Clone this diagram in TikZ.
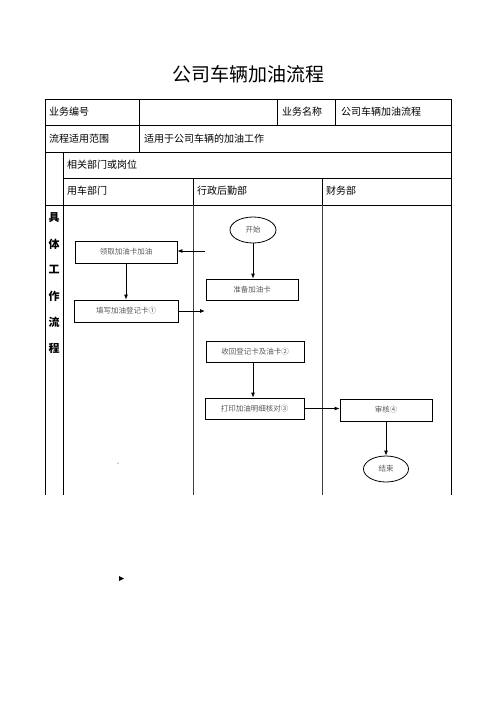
\documentclass[tikz,border=0pt]{standalone}
\usepackage{fontspec}
\setmainfont{Noto Sans CJK SC}
\usetikzlibrary{arrows.meta,shapes.geometric}
\begin{document}
\begin{tikzpicture}[x=1pt,y=-1pt,
  tbl/.style={line width=0.8pt,black},
  lane/.style={line width=0.6pt,black!75},
  hdr/.style={anchor=west,font=\fontsize{10}{12}\selectfont,inner sep=0pt},
  vtxt/.style={font=\fontsize{11}{12}\selectfont\bfseries,inner sep=0pt},
  box/.style={draw,line width=0.8pt,font=\fontsize{7.5}{9}\selectfont,text=black!65,inner sep=0pt},
  oval/.style={ellipse,draw,line width=0.8pt,font=\fontsize{7.5}{9}\selectfont,text=black!65,inner sep=0pt},
  arr/.style={-{Latex[length=5pt,width=4pt]},line width=0.8pt}]
\useasboundingbox (0,0) rectangle (496,702);
% title
\node[font=\fontsize{19}{22}\selectfont] (title) at (248,74) {公司车辆加油流程};
% table lines
\draw[tbl] (45,99) -- (451,99);
\draw[tbl] (45,125) -- (451,125);
\draw[tbl] (45,152) -- (451,152);
\draw[tbl] (63,178) -- (451,178);
\draw[tbl] (45,205) -- (451,205);
\draw[tbl] (45,99) -- (45,495);
\draw[tbl] (451,99) -- (451,495);
\draw[tbl] (139,99) -- (139,152);
\draw[tbl] (277,99) -- (277,125);
\draw[tbl] (335,99) -- (335,125);
\draw[tbl] (63,152) -- (63,495);
\draw[tbl] (193,178) -- (193,205);
\draw[tbl] (322,178) -- (322,205);
\draw[lane] (193,205) -- (193,495);
\draw[lane] (322,205) -- (322,495);
% header texts
\node[hdr] (h1) at (49,112) {业务编号};
\node[hdr] (h2) at (282,112) {业务名称};
\node[hdr] (h3) at (341,112) {公司车辆加油流程};
\node[hdr] (h4) at (49,139) {流程适用范围};
\node[hdr] (h5) at (144,139) {适用于公司车辆的加油工作};
\node[hdr] (h6) at (67,165) {相关部门或岗位};
\node[hdr] (h7) at (67,191) {用车部门};
\node[hdr] (h8) at (197,191) {行政后勤部};
\node[hdr] (h9) at (326,191) {财务部};
% vertical label
\node[vtxt] (v1) at (54,218) {具};
\node[vtxt] (v2) at (54,244) {体};
\node[vtxt] (v3) at (54,270) {工};
\node[vtxt] (v4) at (54,296) {作};
\node[vtxt] (v5) at (54,322) {流};
\node[vtxt] (v6) at (54,348) {程};
% flow nodes
\node[box,minimum width=102pt,minimum height=22pt] (lq) at (126,252) {领取加油卡加油};
\node[box,minimum width=104pt,minimum height=22pt] (tx) at (126,311) {填写加油登记卡①};
\node[oval,minimum width=46pt,minimum height=26pt] (ks) at (253,230) {开始};
\node[box,minimum width=92pt,minimum height=21pt] (zb) at (252,289.5) {准备加油卡};
\node[box,minimum width=98pt,minimum height=21pt] (sh) at (255,351.5) {收回登记卡及油卡②};
\node[box,minimum width=99pt,minimum height=21pt] (dy) at (254.5,408.5) {打印加油明细核对③};
\node[box,minimum width=92pt,minimum height=22pt] (shh) at (386,410) {审核④};
\node[oval,minimum width=45pt,minimum height=26pt] (js) at (386,469) {结束};
\coordinate (in1) at (205,251);
\coordinate (out1) at (205,311);
% connectors
\draw[arr] (in1) -- (lq.east |- in1);
\draw[arr] (lq.south) -- (tx.north);
\draw[arr] (tx.east) -- (out1);
\draw[arr] (ks.south) -- (ks.south |- zb.north);
\draw[arr] (sh.south -| 253,0) -- (253,0 |- dy.north);
\draw[arr] (dy.east) -- (dy.east -| shh.west);
\draw[arr] (shh.south) -- (js.north);
% stray marks
\fill (118,463) circle (0.5pt);
\fill (119,576) -- (124,578.5) -- (119,581) -- cycle;
\end{tikzpicture}
\end{document}
